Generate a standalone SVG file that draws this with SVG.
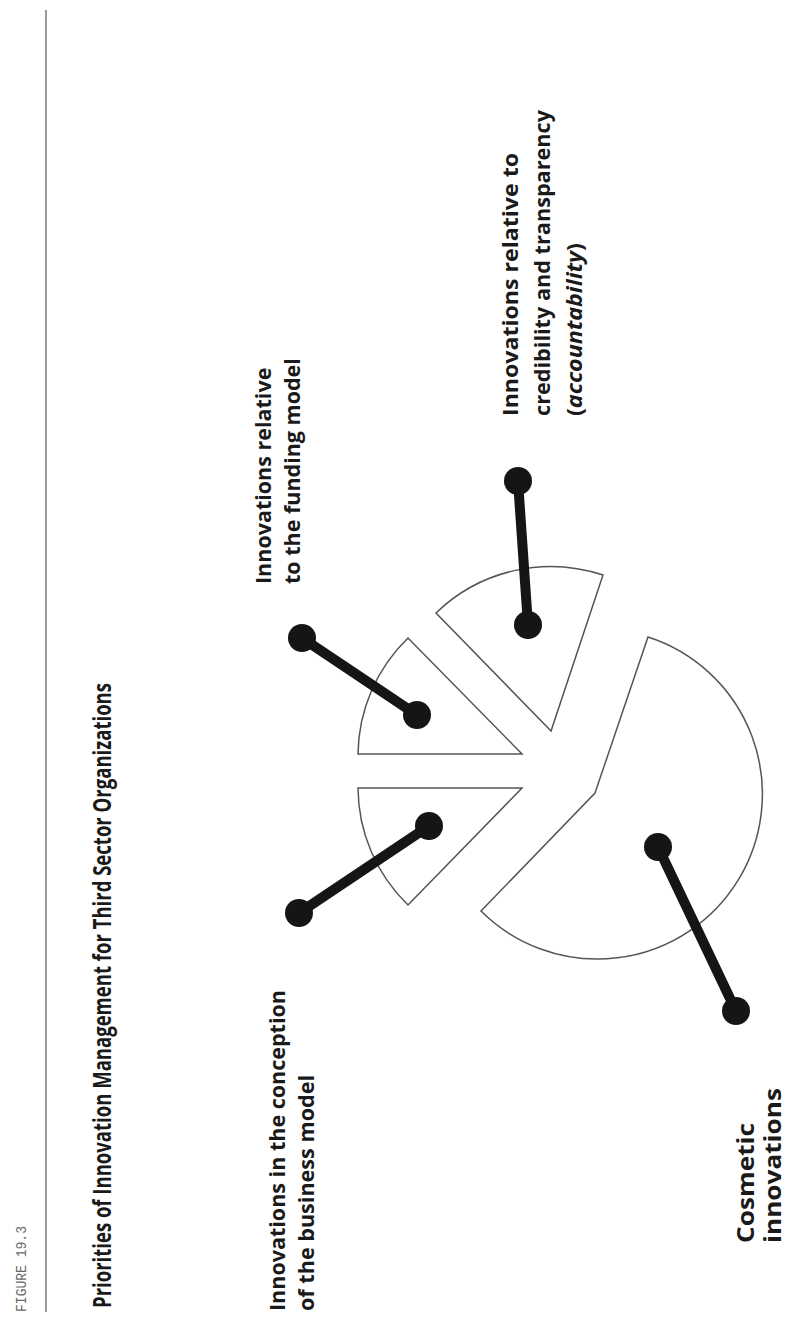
<svg xmlns="http://www.w3.org/2000/svg" width="789" height="1321" viewBox="0 0 789 1321">
  <style>
    .sector { fill: #ffffff; stroke: #555555; stroke-width: 1.5; stroke-linejoin: miter; }
    .label { font-family: "Open Sans", "Liberation Sans", sans-serif; font-weight: bold; fill: #1a1a1a; }
    .title { font-family: "Open Sans", "Liberation Sans", sans-serif; font-weight: bold; fill: #1a1a1a; }
    .fig { font-family: "Liberation Mono", "DejaVu Sans Mono", monospace; fill: #6a6a6a; }
    .conn line { stroke: #151515; stroke-width: 10; stroke-linecap: round; }
    .conn circle { fill: #151515; }
  </style>
  <rect x="0" y="0" width="789" height="1321" fill="#ffffff"/>

  <g id="header">
    <line x1="46" y1="10" x2="46" y2="1312" stroke="#9a9a9a" stroke-width="2"/>
    <text class="fig" font-size="14" textLength="86" lengthAdjust="spacingAndGlyphs" transform="translate(26,1312) rotate(-90)">FIGURE 19.3</text>
    <text class="title" font-size="25" textLength="625" lengthAdjust="spacingAndGlyphs" transform="translate(111,1308) rotate(-90)">Priorities of Innovation Management for Third Sector Organizations</text>
  </g>

  <g id="node-business-model">
    <path class="sector" d="M522,788 L358,788 A164,164 0 0 0 408,905 Z"/>
    <g transform="translate(285,1311) rotate(-90)">
      <text class="label" font-size="21.5" x="0" y="0" textLength="321" lengthAdjust="spacingAndGlyphs">Innovations in the conception</text>
      <text class="label" font-size="21.5" x="0" y="29" textLength="236" lengthAdjust="spacingAndGlyphs">of the business model</text>
    </g>
  </g>

  <g id="node-funding-model">
    <path class="sector" d="M522,754 L358,754 A164,164 0 0 1 408,638 Z"/>
    <g transform="translate(271,584) rotate(-90)">
      <text class="label" font-size="21.5" x="0" y="0">Innovations relative</text>
      <text class="label" font-size="21.5" x="0" y="29">to the funding model</text>
    </g>
  </g>

  <g id="node-credibility">
    <path class="sector" d="M551,731 L436,613 A165,165 0 0 1 603,575 Z"/>
    <g transform="translate(518,416) rotate(-90)">
      <text class="label" font-size="21.5" x="0" y="0" textLength="263" lengthAdjust="spacingAndGlyphs">Innovations relative to</text>
      <text class="label" font-size="21.5" x="0" y="32" textLength="306" lengthAdjust="spacingAndGlyphs">credibility and transparency</text>
      <text class="label" font-size="21.5" x="0" y="64" textLength="173" lengthAdjust="spacingAndGlyphs">(<tspan font-style="italic">accountability</tspan>)</text>
    </g>
  </g>

  <g id="node-cosmetic">
    <path class="sector" d="M595,793 L648,637 A165,165 0 1 1 481,911 Z"/>
    <g transform="translate(754,1243) rotate(-90)">
      <text class="label" font-size="23" x="0" y="0" textLength="120" lengthAdjust="spacingAndGlyphs">Cosmetic</text>
      <text class="label" font-size="23" x="0" y="27" textLength="155" lengthAdjust="spacingAndGlyphs">innovations</text>
    </g>
  </g>

  <g id="connectors" class="conn">
    <line x1="299" y1="913" x2="429" y2="826"/>
    <circle cx="299" cy="913" r="14"/>
    <circle cx="429" cy="826" r="14"/>

    <line x1="302" y1="638" x2="417" y2="715"/>
    <circle cx="302" cy="638" r="14"/>
    <circle cx="417" cy="715" r="14"/>

    <line x1="518" y1="481" x2="528" y2="625"/>
    <circle cx="518" cy="481" r="14"/>
    <circle cx="528" cy="625" r="14"/>

    <line x1="658" y1="847" x2="736" y2="1011"/>
    <circle cx="658" cy="847" r="14"/>
    <circle cx="736" cy="1011" r="14"/>
  </g>
</svg>
